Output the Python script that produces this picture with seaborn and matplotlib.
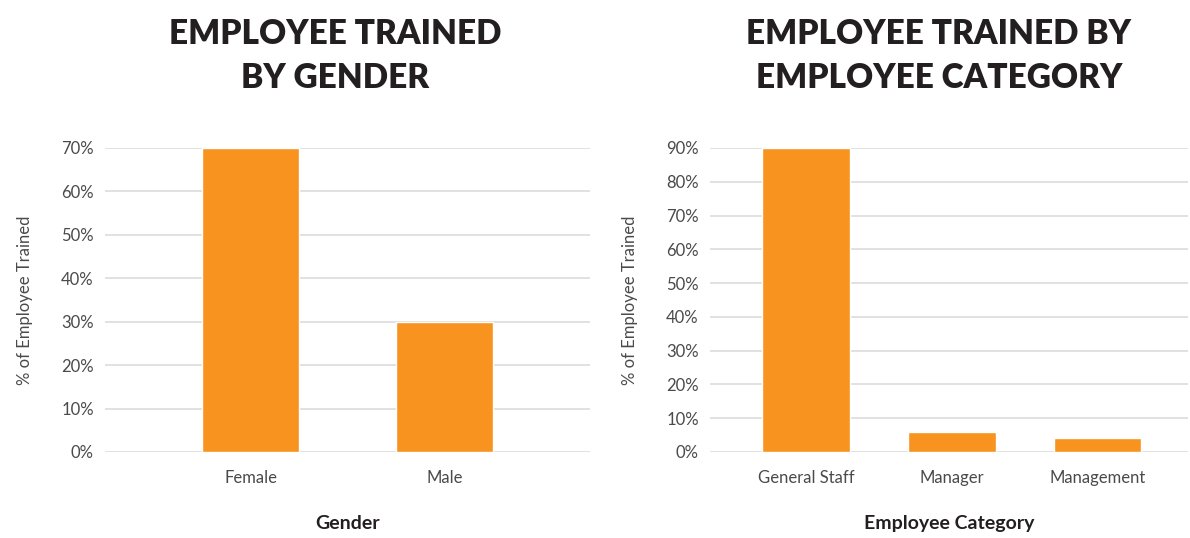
import matplotlib
matplotlib.use("Agg")
import matplotlib.pyplot as plt
import seaborn as sns
import pandas as pd
from matplotlib.ticker import FuncFormatter, MultipleLocator

# data
gender = ["Female", "Male"]
gender_pct = [70, 30]
category = ["General Staff", "Manager", "Management"]
category_pct = [90, 6, 4]

ORANGE = "#F7931E"
GRID = "#dcdcdc"
TEXT = "#4a4a4a"

sns.set_theme(style="white")
plt.rcParams['font.family'] = ['Lato', 'DejaVu Sans']

W, H = 1190, 538
fig = plt.figure(figsize=(W / 100, H / 100), dpi=100)

def px_axes(x0, y0, x1, y1):
    return fig.add_axes([x0 / W, 1 - y1 / H, (x1 - x0) / W, (y1 - y0) / H])

def style(ax, ymax, xlim, xlabel):
    ax.set_ylim(0, ymax)
    ax.set_xlim(*xlim)
    ax.yaxis.set_major_locator(MultipleLocator(10))
    ax.yaxis.set_major_formatter(FuncFormatter(lambda v, p: f"{v:.0f}%"))
    ax.grid(axis="y", color=GRID, linewidth=1.2)
    ax.set_axisbelow(True)
    for s in ax.spines.values():
        s.set_visible(False)
    ax.tick_params(axis="both", length=0, labelsize=12, labelcolor=TEXT, pad=8)
    ax.tick_params(axis="x", pad=13)
    ax.set_ylabel("% of Employee Trained", fontsize=12, color=TEXT,
                  labelpad=20)
    ax.set_xlabel(xlabel, fontsize=14, fontweight="bold", color="#231f20",
                  labelpad=21)

# left chart
ax1 = px_axes(105, 148, 590, 452)
df1 = pd.DataFrame({"Gender": gender, "pct": gender_pct})
sns.barplot(data=df1, x="Gender", y="pct", color=ORANGE, saturation=1,
            width=0.5, ax=ax1)
style(ax1, 70, (-0.75, 1.75), "Gender")

# right chart
ax2 = px_axes(710, 148, 1188, 452)
df2 = pd.DataFrame({"Category": category, "pct": category_pct})
sns.barplot(data=df2, x="Category", y="pct", color=ORANGE, saturation=1,
            width=0.6, ax=ax2)
style(ax2, 90, (-0.66, 2.62), "Employee Category")

fig.text(335 / W, 1 - 56 / H, "EMPLOYEE TRAINED\nBY GENDER", ha="center",
         va="center", fontsize=24, fontweight="heavy", color="#231f20",
         linespacing=1.5)
fig.text(939 / W, 1 - 56 / H, "EMPLOYEE TRAINED BY\nEMPLOYEE CATEGORY",
         ha="center", va="center", fontsize=24, fontweight="heavy",
         color="#231f20", linespacing=1.5)

fig.savefig("out.png", dpi=100)
